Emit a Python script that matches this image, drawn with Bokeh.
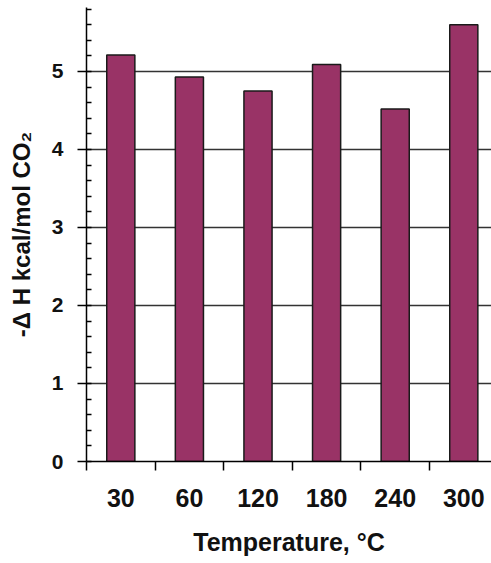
from bokeh.plotting import figure
from bokeh.models import Range1d, FixedTicker, SingleIntervalTicker, ColumnDataSource
from bokeh.embed import file_html
from bokeh.resources import INLINE

temperatures = ["30", "60", "120", "180", "240", "300"]
delta_h = [5.21, 4.93, 4.75, 5.09, 4.52, 5.60]

xpos = [i + 0.5 for i in range(len(temperatures))]
src = ColumnDataSource(dict(x=xpos, top=delta_h, label=temperatures))

p = figure(width=491, height=563, output_backend="svg", toolbar_location=None,
           x_range=Range1d(0, 5.904), y_range=Range1d(0, 5.82),
           min_border_left=86, min_border_right=0, min_border_top=7, min_border_bottom=102)
p.outline_line_color = None
p.background_fill_color = "white"

p.vbar(x="x", top="top", width=0.41, bottom=0, source=src,
       fill_color="#993366", line_color="#1a1a1a", line_width=1.5)

FONT = "Liberation Sans"

# x axis
xa = p.xaxis[0]
xa.ticker = FixedTicker(ticks=xpos, minor_ticks=list(range(len(temperatures) + 1)))
xa.major_label_overrides = {x: t for x, t in zip(xpos, temperatures)}
xa.major_tick_line_color = None
xa.major_tick_out = 0
xa.major_tick_in = 0
xa.minor_tick_out = 9
xa.minor_tick_in = 0
xa.minor_tick_line_color = "black"
xa.minor_tick_line_width = 1.5
xa.axis_line_color = "black"
xa.axis_line_width = 1.5
xa.major_label_standoff = 18
xa.major_label_text_font = FONT
xa.major_label_text_font_style = "bold"
xa.major_label_text_font_size = "25px"
xa.major_label_text_color = "#111111"
xa.axis_label = "Temperature, °C"
xa.axis_label_text_font = FONT
xa.axis_label_text_font_style = "bold"
xa.axis_label_text_font_size = "25px"
xa.axis_label_text_color = "#111111"
xa.axis_label_standoff = 18

# y axis
ya = p.yaxis[0]
ya.ticker = SingleIntervalTicker(interval=1, num_minor_ticks=5)
ya.major_tick_out = 9
ya.major_tick_in = 0
ya.minor_tick_in = 5
ya.minor_tick_out = 0
ya.major_tick_line_width = 1.5
ya.minor_tick_line_width = 1.5
ya.major_tick_line_color = "black"
ya.minor_tick_line_color = "black"
ya.axis_line_color = "black"
ya.axis_line_width = 1.5
ya.major_label_standoff = 14
ya.major_label_text_font = FONT
ya.major_label_text_font_style = "bold"
ya.major_label_text_font_size = "21px"
ya.major_label_text_color = "#111111"
ya.axis_label = "-Δ H kcal/mol CO₂"
ya.axis_label_text_font = FONT
ya.axis_label_text_font_style = "bold"
ya.axis_label_text_font_size = "24px"
ya.axis_label_text_color = "#111111"
ya.axis_label_standoff = 14

p.xgrid.grid_line_color = None
p.ygrid.grid_line_color = "#333333"
p.ygrid.grid_line_width = 1.5

open("out.html", "w").write(file_html(p, INLINE))
